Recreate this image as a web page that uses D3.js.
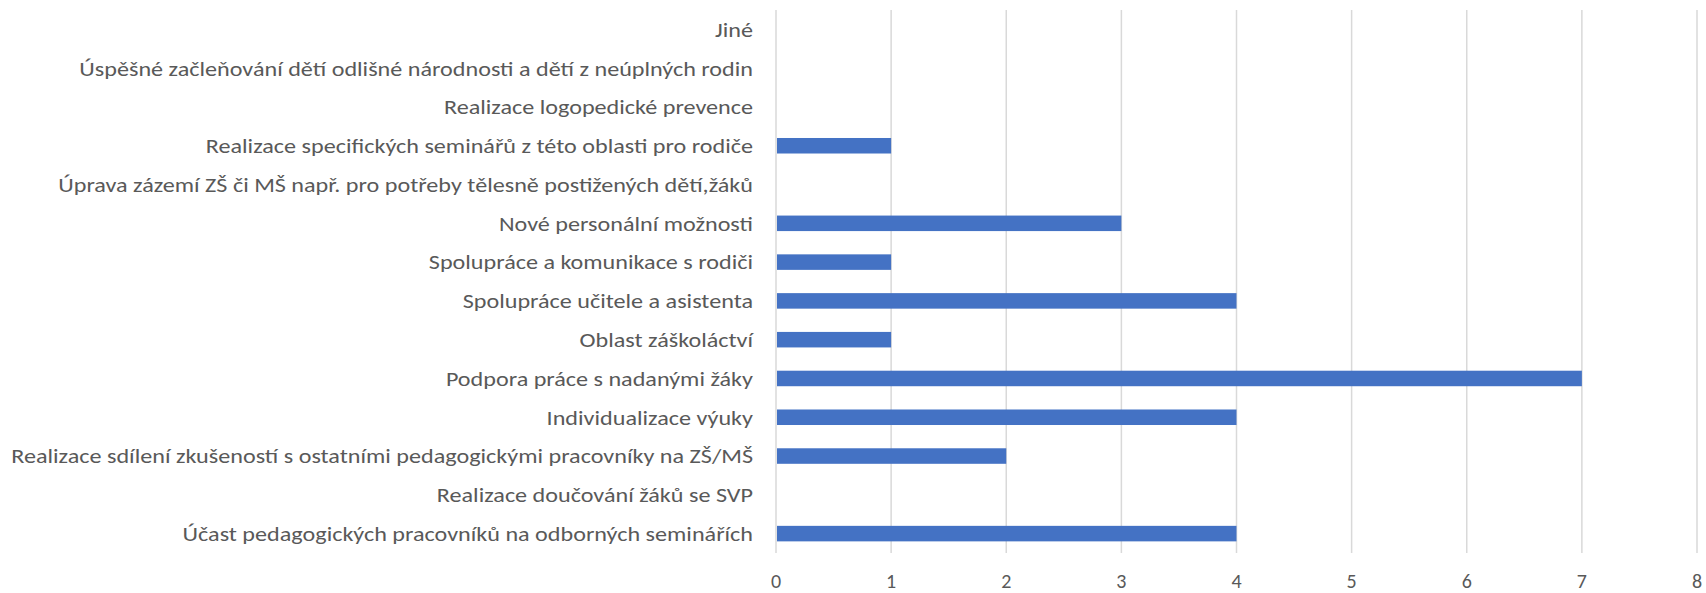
<!DOCTYPE html>
<html>
<head>
<meta charset="utf-8">
<script src="https://cdn.jsdelivr.net/npm/d3@7"></script>
<style>
  body { margin: 0; background: #fff; }
  text { font-family: Carlito, 'Liberation Sans Narrow', 'Open Sans', sans-serif; fill: #595959; }
</style>
</head>
<body>
<script>
const categories = [
    'Jiné',
    'Úspěšné začleňování dětí odlišné národnosti a dětí z neúplných rodin',
    'Realizace logopedické prevence',
    'Realizace specifických seminářů z této oblasti pro rodiče',
    'Úprava zázemí ZŠ či MŠ např. pro potřeby tělesně postižených dětí,žáků',
    'Nové personální možnosti',
    'Spolupráce a komunikace s rodiči',
    'Spolupráce učitele a asistenta',
    'Oblast záškoláctví',
    'Podpora práce s nadanými žáky',
    'Individualizace výuky',
    'Realizace sdílení zkušeností s ostatními pedagogickými pracovníky na ZŠ/MŠ',
    'Realizace doučování žáků se SVP',
    'Účast pedagogických pracovníků na odborných seminářích'
]
const values = [0, 0, 0, 1, 0, 3, 1, 4, 1, 7, 4, 2, 0, 4]
const ticks = [0, 1, 2, 3, 4, 5, 6, 7, 8]

const m = { width: 1706, height: 593, left: 776, right: 1697, top: 10, bottom: 553 }

const svg = d3.select('body').append('svg')
    .attr('width', m.width)
    .attr('height', m.height)

const x = d3.scaleLinear().domain([0, 8]).range([m.left, m.right])
const y = d3.scaleBand().domain(categories).range([m.top, m.bottom]).paddingInner(0.6).paddingOuter(0.3)

// gridlines
svg.append('g').selectAll('line')
    .data(ticks)
    .join('line')
    .attr('x1', d => x(d)).attr('x2', d => x(d))
    .attr('y1', m.top).attr('y2', m.bottom)
    .attr('stroke', '#d9d9d9')
    .attr('stroke-width', 1.5)

// bars
svg.append('g').selectAll('rect')
    .data(categories.map((c, i) => ({ c: c, v: values[i] })).filter(d => d.v > 0))
    .join('rect')
    .attr('x', x(0) + 1)
    .attr('y', d => y(d.c))
    .attr('width', d => x(d.v) - x(0) - 1)
    .attr('height', y.bandwidth())
    .attr('fill', '#4472c4')

// x tick labels
svg.append('g').selectAll('text')
    .data(ticks)
    .join('text')
    .attr('x', d => x(d))
    .attr('y', 588)
    .attr('text-anchor', 'middle')
    .style('font-size', '20px')
    .text(d => d)

// category labels
const labels = svg.append('g').selectAll('text')
    .data(categories)
    .join('text')
    .attr('text-anchor', 'end')
    .attr('dy', '0.35em')
    .style('font-size', '21px')
    .text(d => d)

// squeeze labels so the longest one fits like the original
let longest = 0
labels.each(function() { longest = Math.max(longest, this.getComputedTextLength()) })
const sx = 742 / longest
labels.attr('transform', d => 'translate(753,' + (y(d) + y.bandwidth() / 2) + ') scale(' + sx + ',1)')
</script>
</body>
</html>
